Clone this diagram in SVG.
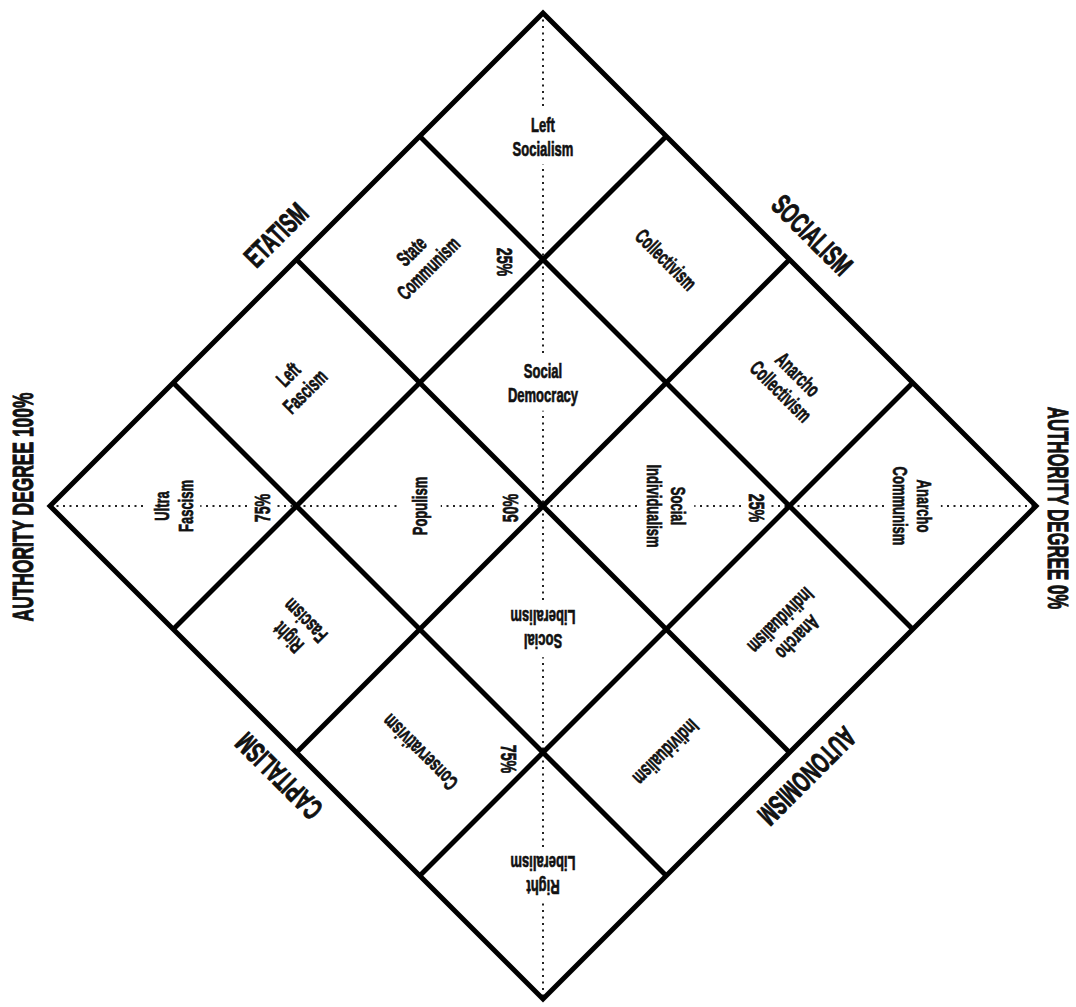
<svg xmlns="http://www.w3.org/2000/svg" width="1076" height="1007" viewBox="0 0 1076 1007">
<style>
.grid{fill:none;stroke:#000;stroke-width:5;stroke-linejoin:miter}
.dot{fill:none;stroke:#222;stroke-width:2;stroke-dasharray:2 4.5}
text{font-family:"Liberation Sans",Arial,sans-serif;font-weight:bold;fill:#111;stroke:#111;text-anchor:middle}
.cell{font-size:21px;stroke-width:0.7}
.pct{font-size:22px;stroke-width:0.7}
.edge{font-size:29px;stroke-width:1}
.axis{font-size:29px;stroke-width:1}
.bg{fill:#fff}
</style>
<rect width="1076" height="1007" fill="#fff"/>
<g id="connectors">
<line class="dot" x1="543" y1="13" x2="543" y2="999"/>
<line class="dot" x1="50" y1="506" x2="1036" y2="506"/>
<line class="grid" x1="419.75" y1="136.25" x2="912.75" y2="629.25"/>
<line class="grid" x1="296.5" y1="259.5" x2="789.5" y2="752.5"/>
<line class="grid" x1="173.25" y1="382.75" x2="666.25" y2="875.75"/>
<line class="grid" x1="666.25" y1="136.25" x2="173.25" y2="629.25"/>
<line class="grid" x1="789.5" y1="259.5" x2="296.5" y2="752.5"/>
<line class="grid" x1="912.75" y1="382.75" x2="419.75" y2="875.75"/>
<polygon class="grid" points="543,13 1036,506 543,999 50,506"/>
</g>
<g id="left-socialism" transform="translate(543,136.25)"><rect class="bg" x="-7" y="-28" width="14" height="56"/><text class="cell" transform="scale(0.62,1)"><tspan x="0" y="-4.5">Left</tspan><tspan x="0" y="19.5">Socialism</tspan></text></g>
<g id="collectivism" transform="translate(666.25,259.5) rotate(45)"><text class="cell" transform="scale(0.62,1)"><tspan x="0" y="7.5">Collectivism</tspan></text></g>
<g id="anarcho-collectivism" transform="translate(789.5,382.75) rotate(45)"><text class="cell" transform="scale(0.62,1)"><tspan x="0" y="-4.5">Anarcho</tspan><tspan x="0" y="19.5">Collectivism</tspan></text></g>
<g id="anarcho-communism" transform="translate(912.75,506) rotate(90)"><rect class="bg" x="-7" y="-28" width="14" height="56"/><text class="cell" transform="scale(0.62,1)"><tspan x="0" y="-4.5">Anarcho</tspan><tspan x="0" y="19.5">Communism</tspan></text></g>
<g id="state-communism" transform="translate(419.75,259.5) rotate(-45)"><text class="cell" transform="scale(0.62,1)"><tspan x="0" y="-4.5">State</tspan><tspan x="0" y="19.5">Communism</tspan></text></g>
<g id="social-democracy" transform="translate(543,382.75)"><rect class="bg" x="-7" y="-28" width="14" height="56"/><text class="cell" transform="scale(0.62,1)"><tspan x="0" y="-4.5">Social</tspan><tspan x="0" y="19.5">Democracy</tspan></text></g>
<g id="social-individualism" transform="translate(666.25,506) rotate(90)"><rect class="bg" x="-7" y="-28" width="14" height="56"/><text class="cell" transform="scale(0.62,1)"><tspan x="0" y="-4.5">Social</tspan><tspan x="0" y="19.5">Individualism</tspan></text></g>
<g id="anarcho-individualism" transform="translate(789.5,629.25) rotate(135)"><text class="cell" transform="scale(0.62,1)"><tspan x="0" y="-4.5">Anarcho</tspan><tspan x="0" y="19.5">Individualism</tspan></text></g>
<g id="left-fascism" transform="translate(296.5,382.75) rotate(-45)"><text class="cell" transform="scale(0.62,1)"><tspan x="0" y="-4.5">Left</tspan><tspan x="0" y="19.5">Fascism</tspan></text></g>
<g id="populism" transform="translate(419.75,506) rotate(-90)"><rect class="bg" x="-7" y="-21" width="14" height="42"/><text class="cell" transform="scale(0.62,1)"><tspan x="0" y="7.5">Populism</tspan></text></g>
<g id="social-liberalism" transform="translate(543,629.25) rotate(180)"><rect class="bg" x="-7" y="-28" width="14" height="56"/><text class="cell" transform="scale(0.62,1)"><tspan x="0" y="-4.5">Social</tspan><tspan x="0" y="19.5">Liberalism</tspan></text></g>
<g id="individualism" transform="translate(666.25,752.5) rotate(135)"><text class="cell" transform="scale(0.62,1)"><tspan x="0" y="7.5">Individualism</tspan></text></g>
<g id="ultra-fascism" transform="translate(173.25,506) rotate(-90)"><rect class="bg" x="-7" y="-27" width="14" height="54"/><text class="cell" transform="scale(0.62,1)"><tspan x="0" y="-4.5">Ultra</tspan><tspan x="0" y="19.5">Fascism</tspan></text></g>
<g id="right-fascism" transform="translate(296.5,629.25) rotate(-135)"><text class="cell" transform="scale(0.62,1)"><tspan x="0" y="-4.5">Right</tspan><tspan x="0" y="19.5">Fascism</tspan></text></g>
<g id="conservativism" transform="translate(419.75,752.5) rotate(-135)"><text class="cell" transform="scale(0.62,1)"><tspan x="0" y="7.5">Conservativism</tspan></text></g>
<g id="right-liberalism" transform="translate(543,875.75) rotate(180)"><rect class="bg" x="-7" y="-26" width="14" height="52"/><text class="cell" transform="scale(0.62,1)"><tspan x="0" y="-4.5">Right</tspan><tspan x="0" y="19.5">Liberalism</tspan></text></g>
<g id="pct-25-top" transform="translate(505,262) rotate(90)"><text class="pct" transform="scale(0.65,1)"><tspan x="0" y="8">25%</tspan></text></g>
<g id="pct-75-left" transform="translate(262,508) rotate(-90)"><rect class="bg" x="-7" y="-14" width="14" height="28"/><text class="pct" transform="scale(0.65,1)"><tspan x="0" y="8">75%</tspan></text></g>
<g id="pct-50" transform="translate(510,508) rotate(-90)"><rect class="bg" x="-7" y="-14" width="14" height="28"/><text class="pct" transform="scale(0.65,1)"><tspan x="0" y="8">50%</tspan></text></g>
<g id="pct-25-right" transform="translate(757,508) rotate(90)"><rect class="bg" x="-7" y="-14" width="14" height="28"/><text class="pct" transform="scale(0.65,1)"><tspan x="0" y="8">25%</tspan></text></g>
<g id="pct-75-bottom" transform="translate(509,759) rotate(90)"><text class="pct" transform="scale(0.65,1)"><tspan x="0" y="8">75%</tspan></text></g>
<g id="etatism" transform="translate(276,235) rotate(-45)"><text class="edge" transform="scale(0.62,1)"><tspan x="0" y="10">ETATISM</tspan></text></g>
<g id="socialism" transform="translate(812,235) rotate(45)"><text class="edge" transform="scale(0.62,1)"><tspan x="0" y="10">SOCIALISM</tspan></text></g>
<g id="capitalism" transform="translate(279,776) rotate(-135)"><text class="edge" transform="scale(0.62,1)"><tspan x="0" y="10">CAPITALISM</tspan></text></g>
<g id="autonomism" transform="translate(807,776) rotate(135)"><text class="edge" transform="scale(0.62,1)"><tspan x="0" y="10">AUTONOMISM</tspan></text></g>
<g id="authority-100" transform="translate(22,507) rotate(-90)"><text class="axis" transform="scale(0.6,1)"><tspan x="0" y="10.5">AUTHORITY DEGREE 100%</tspan></text></g>
<g id="authority-0" transform="translate(1059,508) rotate(90)"><text class="axis" transform="scale(0.58,1)"><tspan x="0" y="10.5">AUTHORITY DEGREE 0%</tspan></text></g>
</svg>
